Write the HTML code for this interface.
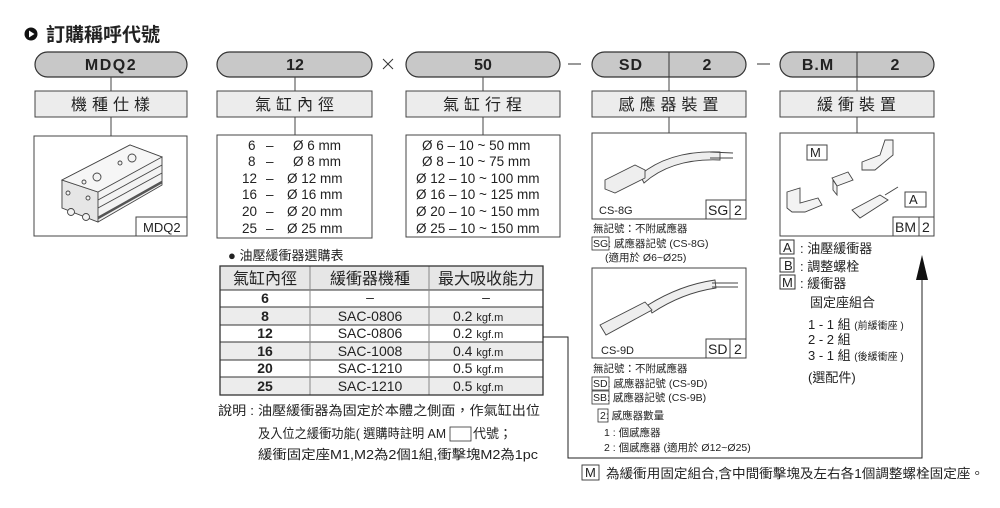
<!DOCTYPE html>
<html><head><meta charset="utf-8">
<style>
html,body{margin:0;padding:0;background:#fff;}
svg{display:block;}
text{font-family:"Liberation Sans","Noto Sans CJK TC",sans-serif;fill:#222;}
.b{font-weight:bold;}
</style></head>
<body>
<svg width="1000" height="508" viewBox="0 0 1000 508" xmlns="http://www.w3.org/2000/svg">
<circle cx="31" cy="34" r="6.5" fill="#111"/>
<polygon points="29,30.5 29,37.5 34.5,34" fill="#fff"/>
<text x="46" y="41" font-size="19" class="b">訂購稱呼代號</text>

<g stroke="#333" stroke-width="1.2" fill="#c8c8c8">
<rect x="35" y="52" width="152" height="25" rx="12.5"/>
<rect x="217" y="52" width="155" height="25" rx="12.5"/>
<rect x="406" y="52" width="154" height="25" rx="12.5"/>
<rect x="592" y="52" width="154" height="25" rx="12.5"/>
<rect x="780" y="52" width="154" height="25" rx="12.5"/>
</g>
<g stroke="#333" stroke-width="1">
<line x1="669" y1="52" x2="669" y2="77"/>
<line x1="857" y1="52" x2="857" y2="77"/>
<line x1="568" y1="64" x2="581" y2="64"/>
<line x1="757" y1="64" x2="770" y2="64"/>
<line x1="383" y1="59" x2="393" y2="69"/><line x1="393" y1="59" x2="383" y2="69"/>
</g>
<g font-size="16" class="b" text-anchor="middle">
<text x="111" y="70" class="b" letter-spacing="1.5">MDQ2</text>
<text x="295" y="70" class="b">12</text>
<text x="483" y="70" class="b">50</text>
<text x="631" y="70" class="b" letter-spacing="1">SD</text>
<text x="707" y="70" class="b">2</text>
<text x="818" y="70" class="b" letter-spacing="1">B.M</text>
<text x="895" y="70" class="b">2</text>
</g>

<g stroke="#444" stroke-width="1">
<line x1="111" y1="77" x2="111" y2="91"/><line x1="111" y1="117" x2="111" y2="136"/>
<line x1="295" y1="77" x2="295" y2="91"/><line x1="295" y1="117" x2="295" y2="135"/>
<line x1="483" y1="77" x2="483" y2="91"/><line x1="483" y1="117" x2="483" y2="135"/>
<line x1="669" y1="77" x2="669" y2="91"/><line x1="669" y1="117" x2="669" y2="133"/>
<line x1="857" y1="77" x2="857" y2="91"/><line x1="857" y1="117" x2="857" y2="133"/>
</g>
<g stroke="#444" stroke-width="1" fill="#ececec">
<rect x="35" y="91" width="152" height="26"/>
<rect x="217" y="91" width="155" height="26"/>
<rect x="406" y="91" width="154" height="26"/>
<rect x="592" y="91" width="154" height="26"/>
<rect x="780" y="91" width="154" height="26"/>
</g>
<g font-size="16" text-anchor="middle" letter-spacing="5">
<text x="113" y="110">機種仕樣</text>
<text x="297" y="110">氣缸內徑</text>
<text x="485" y="110">氣缸行程</text>
<text x="671" y="110">感應器裝置</text>
<text x="859" y="110">緩衝裝置</text>
</g>

<g stroke="#444" stroke-width="1" fill="#fff">
<rect x="34" y="136" width="153" height="100"/>
<rect x="217" y="135" width="155" height="103"/>
<rect x="406" y="135" width="154" height="102"/>
<rect x="592" y="133" width="154" height="86"/>
<rect x="780" y="133" width="154" height="103"/>
<rect x="136" y="217" width="51" height="19"/>
<rect x="706" y="200" width="24" height="19"/>
<rect x="730" y="200" width="16" height="19"/>
<rect x="893" y="217" width="26" height="19"/>
<rect x="919" y="217" width="15" height="19"/>
<rect x="807" y="145" width="20" height="15"/>
<rect x="905" y="192" width="21" height="15"/>
</g>
<g font-size="13">
<text x="143" y="232">MDQ2</text>
<text x="708" y="215" font-size="14">SG</text><text x="734" y="215" font-size="14">2</text>
<text x="895" y="232" font-size="14">BM</text><text x="922" y="232" font-size="14">2</text>
<text x="810" y="157" font-size="13">M</text>
<text x="909" y="204" font-size="13">A</text>
<text x="599" y="214" font-size="11">CS-8G</text>
</g>

<!-- MDQ2 drawing -->
<g stroke="#444" stroke-width="0.9" fill="#f3f3f3">
<polygon points="62,180 130,145 162,157 162,185 98,222 62,208"/>
<polygon points="62,180 98,192 98,222 62,208" fill="#e6e6e6"/>
<polygon points="62,180 130,145 162,157 98,192" fill="#f6f6f6"/>
<line x1="98" y1="200" x2="162" y2="165"/>
<line x1="98" y1="208" x2="162" y2="173"/>
<line x1="98" y1="218" x2="162" y2="182" stroke="#555" stroke-width="2.5"/>
<circle cx="71" cy="212" r="3.5"/><circle cx="86" cy="217" r="3.5"/>
<circle cx="68" cy="193" r="2"/><circle cx="88" cy="198" r="2"/>
<circle cx="97" cy="177" r="4"/><circle cx="132" cy="158" r="4"/>
<circle cx="84" cy="182" r="2"/><circle cx="120" cy="163" r="2"/>
</g>

<g font-size="13.5">
<text x="248" y="150">6</text><text x="266" y="150">–</text><text x="293" y="150">Ø 6  mm</text>
<text x="248" y="166">8</text><text x="266" y="166">–</text><text x="293" y="166">Ø 8  mm</text>
<text x="242" y="183">12</text><text x="266" y="183">–</text><text x="287" y="183">Ø 12 mm</text>
<text x="242" y="199">16</text><text x="266" y="199">–</text><text x="287" y="199">Ø 16 mm</text>
<text x="242" y="216">20</text><text x="266" y="216">–</text><text x="287" y="216">Ø 20 mm</text>
<text x="242" y="233">25</text><text x="266" y="233">–</text><text x="287" y="233">Ø 25 mm</text>
</g>
<g font-size="13.5">
<text x="422" y="150">Ø 6  – 10 ~ 50   mm</text>
<text x="422" y="166">Ø 8  – 10 ~ 75   mm</text>
<text x="416" y="183">Ø 12 – 10 ~ 100 mm</text>
<text x="416" y="199">Ø 16 – 10 ~ 125 mm</text>
<text x="416" y="216">Ø 20 – 10 ~ 150 mm</text>
<text x="416" y="233">Ø 25 – 10 ~ 150 mm</text>
</g>

<g stroke="#444" stroke-width="0.9" fill="#eee">
<path d="M640,175 Q670,150 720,152 L720,160 Q672,158 644,183 Z"/>
<line x1="710" y1="152" x2="733" y2="153"/><line x1="710" y1="158" x2="733" y2="158"/>
<polygon points="605,180 635,165 645,170 645,178 615,193 605,189"/>
</g>

<g stroke="#444" stroke-width="0.9" fill="#f3f3f3">
<polygon points="787,192 800,188 800,203 818,198 822,205 805,212 792,212 787,208"/>
<polygon points="832,178 848,172 853,180 837,186"/>
<polygon points="833,180 837,186 837,195 833,190"/>
<polygon points="862,162 880,155 885,140 893,140 893,155 875,170 862,170"/>
<polygon points="852,210 880,195 888,200 860,218"/>
<line x1="885" y1="195" x2="898" y2="187"/>
</g>

<g stroke="#333" stroke-width="1" fill="#fff">
<rect x="780" y="240" width="14" height="14"/>
<rect x="780" y="258" width="14" height="14"/>
<rect x="780" y="275" width="15" height="14"/>
</g>
<g font-size="13">
<text x="783" y="252">A</text><text x="784" y="270">B</text><text x="782" y="287">M</text>
<text x="800" y="253">: 油壓緩衝器</text>
<text x="800" y="271">: 調整螺栓</text>
<text x="800" y="288">: 緩衝器</text>
<text x="810" y="307">固定座組合</text>
<text x="808" y="329">1 - 1  組 <tspan font-size="10">(前緩衝座 )</tspan></text>
<text x="808" y="344">2 - 2  組</text>
<text x="808" y="360">3 - 1  組 <tspan font-size="10">(後緩衝座 )</tspan></text>
<text x="808" y="382">(選配件)</text>
</g>

<g font-size="10.5">
<text x="593" y="232">無記號：不附感應器</text>
<text x="593" y="247">SG: 感應器記號 (CS-8G)</text>
<text x="605" y="261">(適用於  Ø6~Ø25)</text>
<text x="593" y="372">無記號：不附感應器</text>
<text x="593" y="387">SD: 感應器記號 (CS-9D)</text>
<text x="593" y="401">SB: 感應器記號 (CS-9B)</text>
<text x="600" y="419">2: 感應器數量</text>
<text x="604" y="436">1 : 個感應器</text>
<text x="604" y="451">2 : 個感應器    (適用於 Ø12~Ø25)</text>
</g>
<g stroke="#333" stroke-width="0.8" fill="none">
<rect x="592" y="237" width="17" height="13"/>
<rect x="592" y="377" width="17" height="13"/>
<rect x="592" y="391" width="17" height="13"/>
<rect x="598" y="409" width="10" height="13"/>
</g>

<g stroke="#444" stroke-width="1" fill="#fff">
<rect x="592" y="268" width="154" height="90"/>
<rect x="706" y="339" width="24" height="19"/>
<rect x="730" y="339" width="16" height="19"/>
</g>
<text x="708" y="354" font-size="14">SD</text><text x="734" y="354" font-size="14">2</text>
<text x="601" y="354" font-size="11">CS-9D</text>
<g stroke="#444" stroke-width="0.9" fill="#eee">
<path d="M648,305 Q680,285 715,280 L716,288 Q682,293 652,313 Z"/>
<polygon points="600,325 645,302 652,310 606,335"/>
<line x1="712" y1="283" x2="738" y2="283"/><line x1="712" y1="287" x2="738" y2="287"/>
</g>

<text x="228" y="260" font-size="13">● 油壓緩衝器選購表</text>
<g stroke="#333" stroke-width="1">
<rect x="220" y="266" width="323" height="24" fill="#e6e6e6"/>
<rect x="220" y="290" width="323" height="17" fill="#fff"/>
<rect x="220" y="307" width="323" height="18" fill="#ececec"/>
<rect x="220" y="325" width="323" height="17" fill="#fff"/>
<rect x="220" y="342" width="323" height="18" fill="#ececec"/>
<rect x="220" y="360" width="323" height="17" fill="#fff"/>
<rect x="220" y="377" width="323" height="18" fill="#ececec"/>
<line x1="310" y1="266" x2="310" y2="395" stroke="#888"/>
<line x1="429" y1="266" x2="429" y2="395" stroke="#888"/>
<rect x="220" y="266" width="323" height="129" fill="none" stroke-width="1.3"/>
</g>
<g font-size="14" text-anchor="middle">
<text x="265" y="284" font-size="16">氣缸內徑</text>
<text x="370" y="284" font-size="16">緩衝器機種</text>
<text x="486" y="284" font-size="16">最大吸收能力</text>
<text x="265" y="303" class="b">6</text><text x="370" y="302">–</text><text x="486" y="302">–</text>
<text x="265" y="321" class="b">8</text><text x="370" y="321">SAC-0806</text>
<text x="265" y="338" class="b">12</text><text x="370" y="338">SAC-0806</text>
<text x="265" y="356" class="b">16</text><text x="370" y="356">SAC-1008</text>
<text x="265" y="373" class="b">20</text><text x="370" y="373">SAC-1210</text>
<text x="265" y="391" class="b">25</text><text x="370" y="391">SAC-1210</text>
</g>
<g font-size="14">
<text x="453" y="321">0.2 <tspan font-size="11">kgf.m</tspan></text>
<text x="453" y="338">0.2 <tspan font-size="11">kgf.m</tspan></text>
<text x="453" y="356">0.4 <tspan font-size="11">kgf.m</tspan></text>
<text x="453" y="373">0.5 <tspan font-size="11">kgf.m</tspan></text>
<text x="453" y="391">0.5 <tspan font-size="11">kgf.m</tspan></text>
</g>
<g font-size="13">
<text x="218" y="415" textLength="322" lengthAdjust="spacingAndGlyphs">說明 : 油壓緩衝器為固定於本體之側面，作氣缸出位</text>
<text x="258" y="438" textLength="188" lengthAdjust="spacingAndGlyphs">及入位之緩衝功能( 選購時註明  AM</text>
<text x="473" y="438">代號；</text>
<text x="258" y="459" textLength="280" lengthAdjust="spacingAndGlyphs">緩衝固定座M1,M2為2個1組,衝擊塊M2為1pc</text>
</g>
<rect x="450" y="427" width="21" height="14" fill="none" stroke="#333" stroke-width="0.8"/>

<polyline points="543,337 568,337 568,458 922,458 922,270" fill="none" stroke="#222" stroke-width="1"/>
<polygon points="922,255 916,280 928,280" fill="#111"/>

<rect x="582" y="465" width="17" height="15" fill="none" stroke="#333" stroke-width="0.9"/>
<text x="585" y="477" font-size="13">M</text>
<text x="606" y="478" font-size="13" textLength="378" lengthAdjust="spacingAndGlyphs">為緩衝用固定組合,含中間衝擊塊及左右各1個調整螺栓固定座。</text>
</svg>
</body></html>
